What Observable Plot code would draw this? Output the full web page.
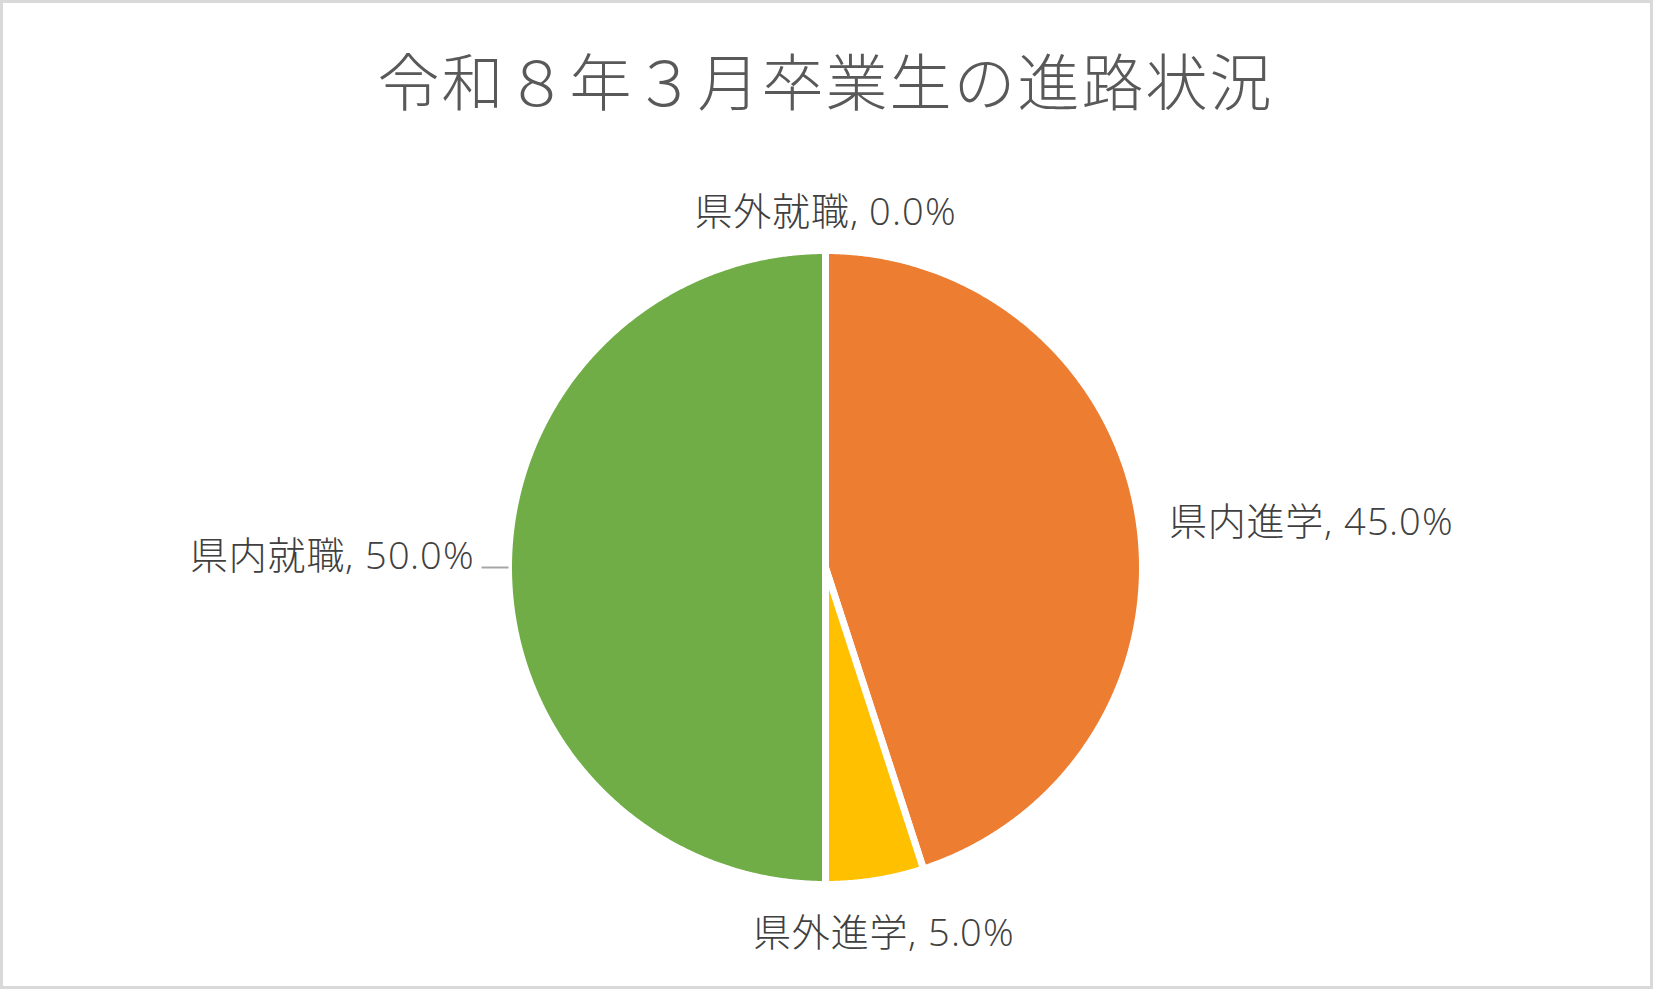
<!DOCTYPE html>
<html><head><meta charset="utf-8">
<script src="https://cdn.jsdelivr.net/npm/d3@7"></script>
<script src="https://cdn.jsdelivr.net/npm/@observablehq/plot@0.6"></script>
<style>
@font-face { font-family: "LblLatin"; src: local("Open Sans Regular"), local("OpenSans-Regular"), local("Open Sans"); font-weight: 300; unicode-range: U+0020-007F; }
html,body{margin:0;padding:0;background:#fff;overflow:hidden;}
#chart svg{display:block;outline:3px solid #d9d9d9;outline-offset:-3px;}
</style></head>
<body><div id="chart"></div>
<script>
const title = "令和８年３月卒業生の進路状況";
const categories = ["県内進学", "県外進学", "県内就職", "県外就職"];
const values = [45, 5, 50, 0];
const colors = ["#ED7D31", "#FFC000", "#70AD47", "#4472C4"];
const leaderLines = ["県内就職"];

const total = d3.sum(values);
const arcs = d3.pie().sort(null).value(d => d)(values);
const slices = arcs.map((a, i) => ({
  cat: categories[i], value: values[i], pct: values[i] / total * 100,
  start: a.startAngle, end: a.endAngle, mid: (a.startAngle + a.endAngle) / 2
}));

// polygon points for each slice (unit circle, y up, clockwise from top)
const pts = [];
for (const s of slices) {
  if (s.value <= 0) continue;
  pts.push({cat: s.cat, x: 0, y: 0});
  const n = Math.max(2, Math.ceil((s.end - s.start) / 0.005));
  for (let k = 0; k <= n; k++) {
    const a = s.start + (s.end - s.start) * k / n;
    pts.push({cat: s.cat, x: Math.sin(a), y: Math.cos(a)});
  }
}

const R = 1.1;
const labels = slices.map(s => {
  const sx = Math.sin(s.mid), cy = Math.cos(s.mid);
  const side = sx > 0.5 ? "right" : sx < -0.5 ? "left" : cy > 0 ? "top" : "bottom";
  return {...s, side, lx: R * sx, ly: R * cy, text: `${s.cat}, ${s.pct.toFixed(1)}%`};
});

const leaders = labels.filter(d => leaderLines.includes(d.cat)).map(d => ({
  x1: 1.0 * Math.sin(d.mid), y1: 1.0 * Math.cos(d.mid),
  x2: 1.085 * Math.sin(d.mid), y2: 1.085 * Math.cos(d.mid)
}));

const font = "'LblLatin', 'Open Sans', 'Noto Sans CJK JP', sans-serif";
const labelOpts = {x: "lx", y: "ly", text: "text", fontSize: 38, fontWeight: 300, fill: "#404040", lineAnchor: "middle"};

const chart = Plot.plot({
  width: 1653, height: 989,
  marginLeft: 508, marginRight: 511, marginTop: 250, marginBottom: 105,
  x: {domain: [-1, 1], axis: null},
  y: {domain: [-1, 1], axis: null},
  color: {domain: categories, range: colors},
  style: {fontFamily: font, background: "#fff", overflow: "visible"},
  marks: [
    Plot.line(pts, {x: "x", y: "y", z: "cat", fill: "cat", stroke: "white", strokeWidth: 7, strokeLinejoin: "round", curve: "linear-closed"}),
    Plot.link(leaders, {x1: "x1", y1: "y1", x2: "x2", y2: "y2", stroke: "#a6a6a6", strokeWidth: 2}),
    Plot.text(labels.filter(d => d.side === "right"), {...labelOpts, textAnchor: "start", dx: -1, dy: 10}),
    Plot.text(labels.filter(d => d.side === "left"), {...labelOpts, textAnchor: "end", dx: -2, dy: -11}),
    Plot.text(labels.filter(d => d.side === "top"), {...labelOpts, textAnchor: "middle", dy: -6}),
    Plot.text(labels.filter(d => d.side === "bottom"), {...labelOpts, textAnchor: "middle", dx: 4, dy: 22}),
    Plot.text([title], {frameAnchor: "top", dy: -164, lineAnchor: "middle", fontSize: 62, fill: "#595959", fontWeight: 300, text: d => d, fontFamily: "'Noto Sans CJK JP', sans-serif"})
  ]
});
document.getElementById("chart").appendChild(chart);
const textGroups = d3.select(chart).selectAll("g[aria-label=text]");
textGroups.filter((d,i,n)=>n[i].textContent===title).style("letter-spacing","2px");
textGroups.filter((d,i,n)=>n[i].textContent!==title).style("letter-spacing","0.8px");
</script></body></html>
